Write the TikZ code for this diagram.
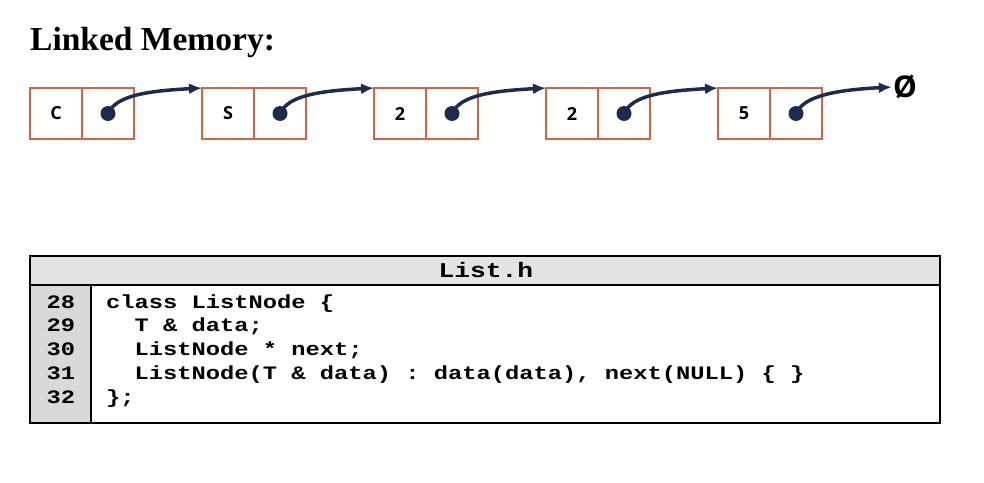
\documentclass[tikz,border=0pt]{standalone}
\usepackage{fontspec}
\setmainfont{Liberation Serif}
\setmonofont{Liberation Mono}[FakeStretch=1.25]
\newfontfamily\cellfont{Open Sans}
\usetikzlibrary{positioning,arrows.meta}

\definecolor{cellred}{RGB}{214,98,64}
\definecolor{navy}{RGB}{29,44,78}
\definecolor{headgray}{RGB}{228,228,228}
\definecolor{numgray}{RGB}{217,217,217}

\tikzset{
  cell/.style={draw=cellred, line width=1.3pt, minimum width=52pt,
    minimum height=51pt, inner sep=0pt, outer sep=0pt,
    font=\cellfont\bfseries\fontsize{18}{18}\selectfont},
  ptrdot/.style={circle, fill=navy, minimum size=15pt, inner sep=0pt},
  link/.style={navy, line width=3.5pt, -{Latex[length=13pt,width=11pt]}},
  code/.style={anchor=base west, inner sep=0pt,
    font=\ttfamily\bfseries\fontsize{19}{19}\selectfont},
}

\begin{document}
\begin{tikzpicture}[x=1pt,y=1pt]
\useasboundingbox (0,0) rectangle (984,-482);

\node[anchor=base west, inner sep=0pt,
  font=\bfseries\fontsize{33.5}{34}\selectfont] (title) at (30,-50) {Linked Memory:};

% list cells
\foreach \v [count=\i from 0] in {C,S,2,2,5} {
  \node[cell] (d\i) at ({56+172*\i},-113.5) {\v};
  \node[cell, right=0pt of d\i] (p\i) {};
}
\node[inner sep=1pt, font=\cellfont\bfseries\fontsize{30}{30}\selectfont] (null) at (905,-87) {Ø};

\foreach \i/\j in {0/1,1/2,2/3,3/4}
  \draw[link] (p\i.center) .. controls +(8,18) and +(-55,-3) .. (d\j.north west);
\draw[link] (p4.center) .. controls +(8,18) and +(-55,-3) .. (null.west);

\foreach \i in {0,...,4}
  \node[ptrdot] (q\i) at (p\i) {};

% code box
\fill[headgray] (30,-256) rectangle (940,-285);
\fill[numgray] (30,-285) rectangle (91,-423);
\draw[line width=2pt] (30,-256) rectangle (940,-423);
\draw[line width=1.5pt] (30,-285) -- (940,-285);
\draw[line width=1.5pt] (91,-285) -- (91,-423);
\node[code, anchor=base, font=\ttfamily\bfseries\fontsize{21}{21}\selectfont] (head) at (486,-277) {List.h};

\foreach \n [count=\k from 0] in {28,...,32}
  \node[code, anchor=base] (n\n) at (61,{-308-23.75*\k}) {\n};

\node[code] (l28) at (106,-308) {class ListNode \{};
\node[code] (l29) at (106,-331.75) {\ \ T \& data;};
\node[code] (l30) at (106,-355.5) {\ \ ListNode * next;};
\node[code] (l31) at (106,-379.25) {\ \ ListNode(T \& data) : data(data), next(NULL) \{ \}};
\node[code] (l32) at (106,-403) {\};};

\end{tikzpicture}
\end{document}
